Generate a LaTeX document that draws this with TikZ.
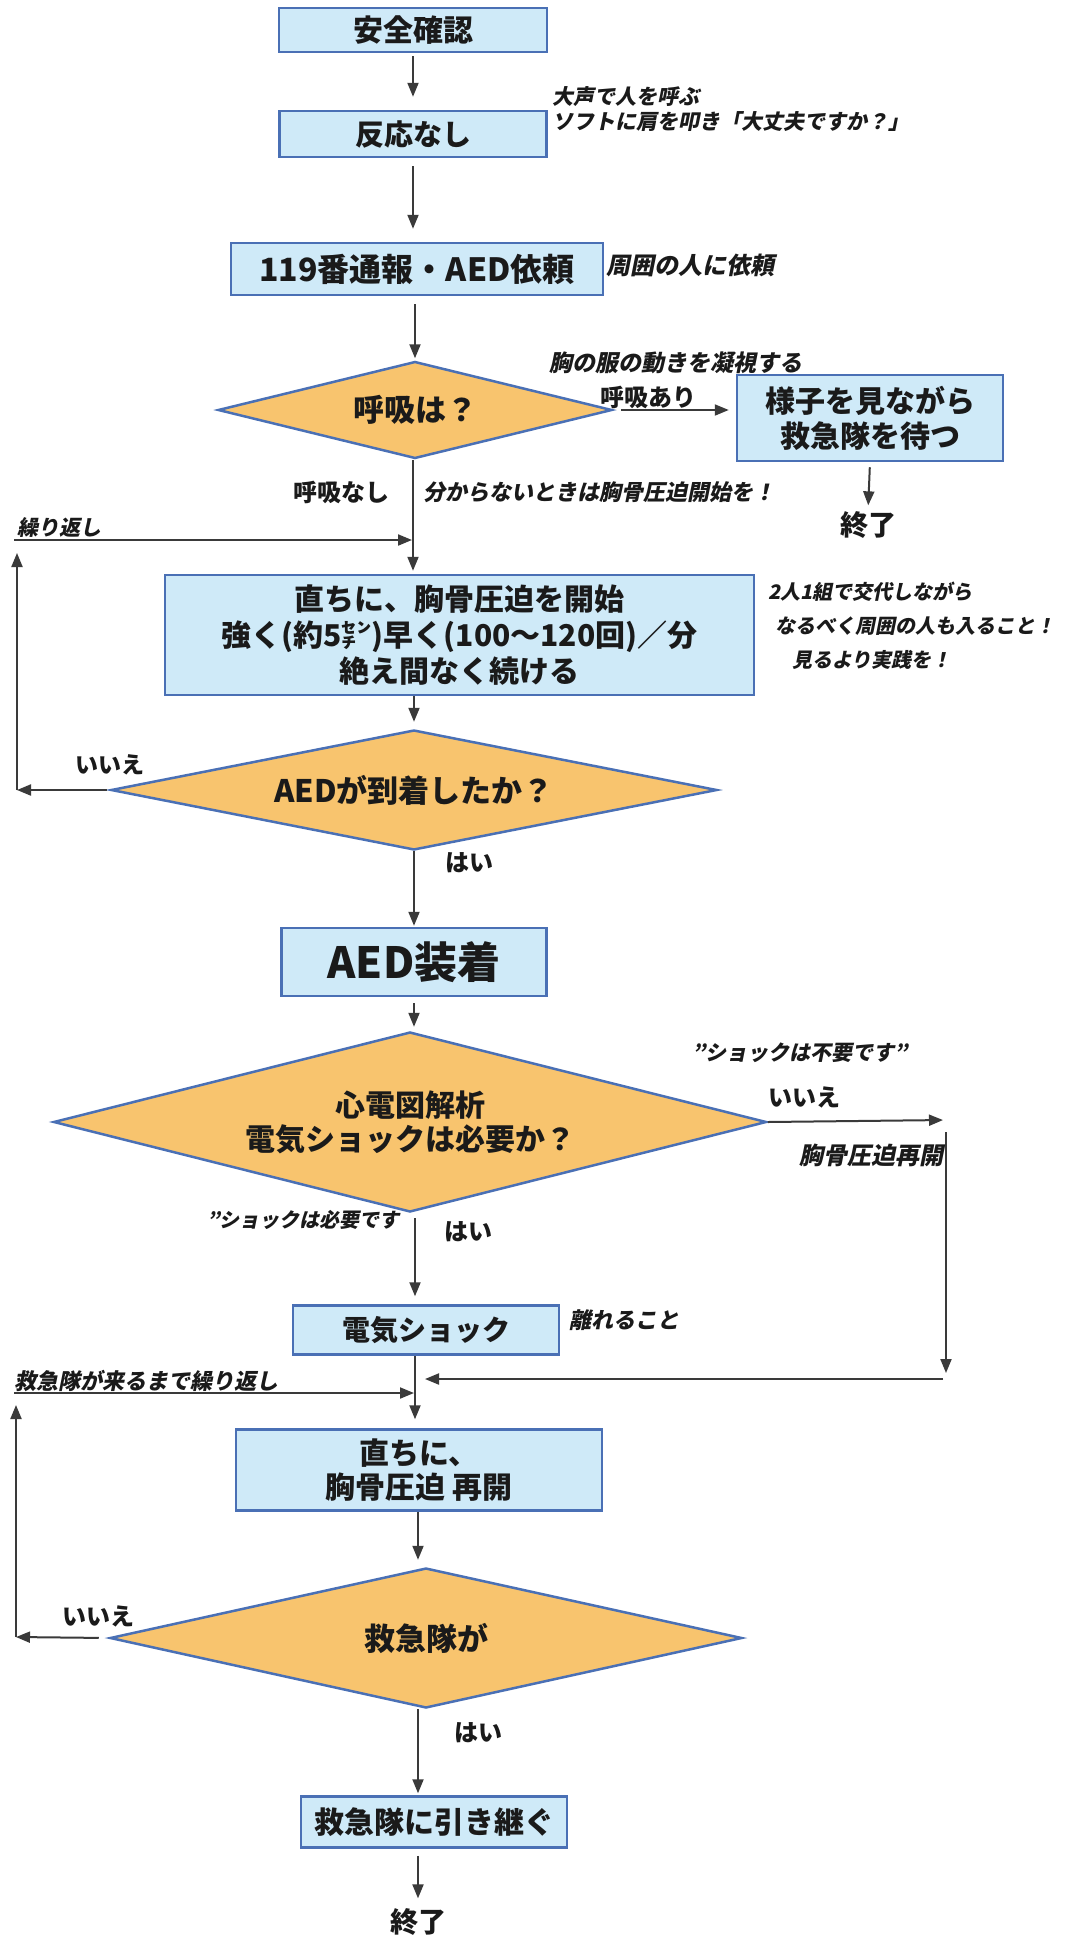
\documentclass[tikz,border=0pt]{standalone}
\usepackage{fontspec}
\usetikzlibrary{shapes.geometric,arrows.meta}
\setmainfont{Noto Sans CJK JP}
\newfontfamily\jpit{Noto Sans CJK JP}[FakeSlant=0.2]
\newcommand\setfs[2]{\fontsize{#1}{#2}\selectfont}
\definecolor{boxc}{HTML}{CFEAF8}
\definecolor{bordc}{HTML}{4A70B5}
\definecolor{diac}{HTML}{F8C46E}
\definecolor{arrc}{HTML}{3A3A3A}
\definecolor{txtc}{HTML}{1A1A1A}
\tikzset{
  box/.style={rectangle, draw=bordc, line width=2.5pt, fill=boxc, inner sep=0pt, align=center, text=txtc},
  dia/.style={diamond, draw=bordc, line width=2.5pt, fill=diac, inner sep=0pt, align=center, text=txtc},
  arr/.style={draw=arrc, line width=2pt, -{Triangle[length=14pt,width=11pt]}},
  ln/.style={draw=arrc, line width=2pt},
  note/.style={inner sep=0pt, text=txtc, align=left},
  lab/.style={inner sep=0pt, font=\bfseries, text=txtc},
  endt/.style={inner sep=0pt, font=\bfseries\setfs{28}{32}, text=txtc},
}
\begin{document}
\begin{tikzpicture}[x=1pt,y=-1pt]
\useasboundingbox[fill=white] (0,0) rectangle (1075,1936);

% main nodes
\node[box, minimum width=268pt, minimum height=44pt, font=\bfseries\setfs{30}{36}] (safe) at (413,30) {安全確認};
\node[box, minimum width=267pt, minimum height=46pt, font=\bfseries\setfs{29}{35}] (noresp) at (413,134) {反応なし};
\node[box, minimum width=372pt, minimum height=52pt, font=\bfseries\setfs{32}{37}] (call) at (417,269) {119番通報・AED依頼};
\node[dia, minimum width=394pt, minimum height=97pt, aspect=4, font=\bfseries\setfs{31}{37}] (breath) at (415,410) {呼吸は？};
\node[box, minimum width=266pt, minimum height=86pt, font=\bfseries\setfs{30}{35}] (observe) at (870,418) {様子を見ながら\\救急隊を待つ};
\node[endt] (end1) at (868,525) {終了};
\node[box, minimum width=589pt, minimum height=120pt, font=\bfseries\setfs{30}{36}] (cpr) at (459.5,635) {直ちに、胸骨圧迫を開始\\強く(約5㌢)早く(100〜120回)／分\\絶え間なく続ける};
\node[dia, minimum width=606pt, minimum height=120pt, aspect=5, font=\bfseries\setfs{31}{37}] (aed) at (414,790) {AEDが到着したか？};
\node[box, minimum width=265pt, minimum height=68pt, font=\bfseries\setfs{43}{50}] (aedon) at (414,962) {AED装着};
\node[dia, minimum width=713pt, minimum height=180pt, aspect=4, font=\bfseries\setfs{30}{34}] (ecg) at (410,1122) {心電図解析\\電気ショックは必要か？};
\node[box, minimum width=266pt, minimum height=49pt, font=\bfseries\setfs{28}{34}] (shock) at (426,1330) {電気ショック};
\node[box, minimum width=366pt, minimum height=81pt, font=\bfseries\setfs{30}{34}] (resume) at (419,1470) {直ちに、\\胸骨圧迫 再開};
\node[dia, minimum width=632pt, minimum height=140pt, aspect=4.5, font=\bfseries\setfs{31}{37}] (amb) at (426,1638) {救急隊が};
\node[box, minimum width=266pt, minimum height=51pt, font=\bfseries\setfs{30}{36}] (hand) at (434,1822) {救急隊に引き継ぐ};
\node[endt] (end2) at (418,1922) {終了};

% helper coordinates
\coordinate (m1) at (413,540);
\coordinate (m2) at (415,1393);
\coordinate (m3) at (418,0);
\coordinate (l1) at (17,790);
\coordinate (l1t) at (17,540);
\coordinate (r1) at (946,1120);
\coordinate (r2) at (946,1379);
\coordinate (l2) at (16,1637);
\coordinate (l2t) at (16,1393);

% connectors
\draw[arr, shorten <=3pt, shorten >=13pt] (safe.south) -- (safe.south |- noresp.north);
\draw[arr, shorten <=8pt, shorten >=13pt] (noresp.south) -- (noresp.south |- call.north);
\draw[arr, shorten <=8pt, shorten >=2pt] (call.south -| breath.north) -- (breath.north);
\draw[arr, shorten <=8pt, shorten >=7pt] (breath.east) -- (breath.east -| observe.west);
\draw[arr, shorten <=5pt, shorten >=6pt] (observe.south) -- (end1.north);
\draw[arr, shorten >=3pt] (m1 |- breath.south) -- (m1 |- cpr.north);
\draw[arr, shorten >=7pt] (aed.north |- cpr.south) -- (aed.north);
\draw[arr, shorten <=3pt] (aed.west) -- (l1);
\draw[arr, shorten >=13pt] (l1) -- (l1t);
\draw[arr, shorten <=-3pt, shorten >=1pt] (l1t) -- (m1);
\draw[arr, shorten >=1pt] (aed.south) -- (aed.south |- aedon.north);
\draw[arr, shorten <=6pt, shorten >=4pt] (aedon.south) -- (aedon.south |- ecg.north);
\draw[arr, shorten >=3pt] (ecg.east) -- (r1);
\draw[arr, shorten <=12pt, shorten >=6pt] (r1) -- (r2);
\draw[arr, shorten <=3pt, shorten >=10pt] (r2) -- (m2 |- r2);
\draw[arr, shorten <=5pt, shorten >=8pt] (m2 |- ecg.south) -- (m2 |- shock.north);
\draw[ln] (m2 |- shock.south) -- (m2);
\draw[arr, shorten >=9pt] (m2) -- (m2 |- resume.north);
\draw[arr, shorten >=7pt] (m3 |- resume.south) -- (m3 |- amb.north);
\draw[arr, shorten <=10pt] (amb.west) -- (l2);
\draw[arr, shorten >=12pt] (l2) -- (l2t);
\draw[arr, shorten <=-2pt, shorten >=1pt] (l2t) -- (m2);
\draw[arr, shorten >=2pt] (m3 |- amb.south) -- (m3 |- hand.north);
\draw[arr, shorten <=7pt, shorten >=10pt] (m3 |- hand.south) -- (end2.north);

% annotations
\node[note, anchor=west, font=\jpit\bfseries\setfs{21}{25}] (n1) at (552,109) {大声で人を呼ぶ\\ソフトに肩を叩き「大丈夫ですか？」};
\node[note, anchor=west, font=\jpit\bfseries\setfs{24}{28}] (n2) at (606,265) {周囲の人に依頼};
\node[note, anchor=west, font=\jpit\bfseries\setfs{23}{27}] (n3) at (549,363) {胸の服の動きを凝視する};
\node[lab, font=\bfseries\setfs{24}{28}] (y1) at (648,397) {呼吸あり};
\node[lab, font=\bfseries\setfs{24}{28}] (n1b) at (341,492) {呼吸なし};
\node[note, anchor=west, font=\jpit\bfseries\setfs{22}{26}] (n4) at (423,492) {分からないときは胸骨圧迫開始を！};
\node[note, anchor=west, font=\jpit\bfseries\setfs{21}{25}] (n5) at (17,527) {繰り返し};
\node[note, anchor=west, font=\jpit\bfseries\setfs{20}{34}] (n6) at (768,626) {2人1組で交代しながら\\\hspace*{7pt}なるべく周囲の人も入ること！\\\hspace*{24pt}見るより実践を！};
\node[lab, font=\bfseries\setfs{23}{27}] (no1) at (110,765) {いいえ};
\node[lab, font=\bfseries\setfs{24}{28}] (yes1) at (469,863) {はい};
\node[note, anchor=west, font=\jpit\bfseries\setfs{21}{25}] (n7) at (692,1053) {”ショックは不要です”};
\node[lab, font=\bfseries\setfs{24}{28}] (no2) at (804,1097) {いいえ};
\node[note, anchor=west, font=\jpit\bfseries\setfs{24}{28}] (n8) at (799,1155) {胸骨圧迫再開};
\node[note, anchor=east, font=\jpit\bfseries\setfs{20}{24}] (n9) at (400,1220) {”ショックは必要です};
\node[lab, font=\bfseries\setfs{24}{28}] (yes2) at (468,1232) {はい};
\node[note, anchor=west, font=\jpit\bfseries\setfs{22}{26}] (n10) at (569,1320) {離れること};
\node[note, anchor=west, font=\jpit\bfseries\setfs{22}{26}] (n11) at (14,1381) {救急隊が来るまで繰り返し};
\node[lab, font=\bfseries\setfs{24}{28}] (no3) at (98,1616) {いいえ};
\node[lab, font=\bfseries\setfs{24}{28}] (yes3) at (478,1733) {はい};
\end{tikzpicture}
\end{document}
